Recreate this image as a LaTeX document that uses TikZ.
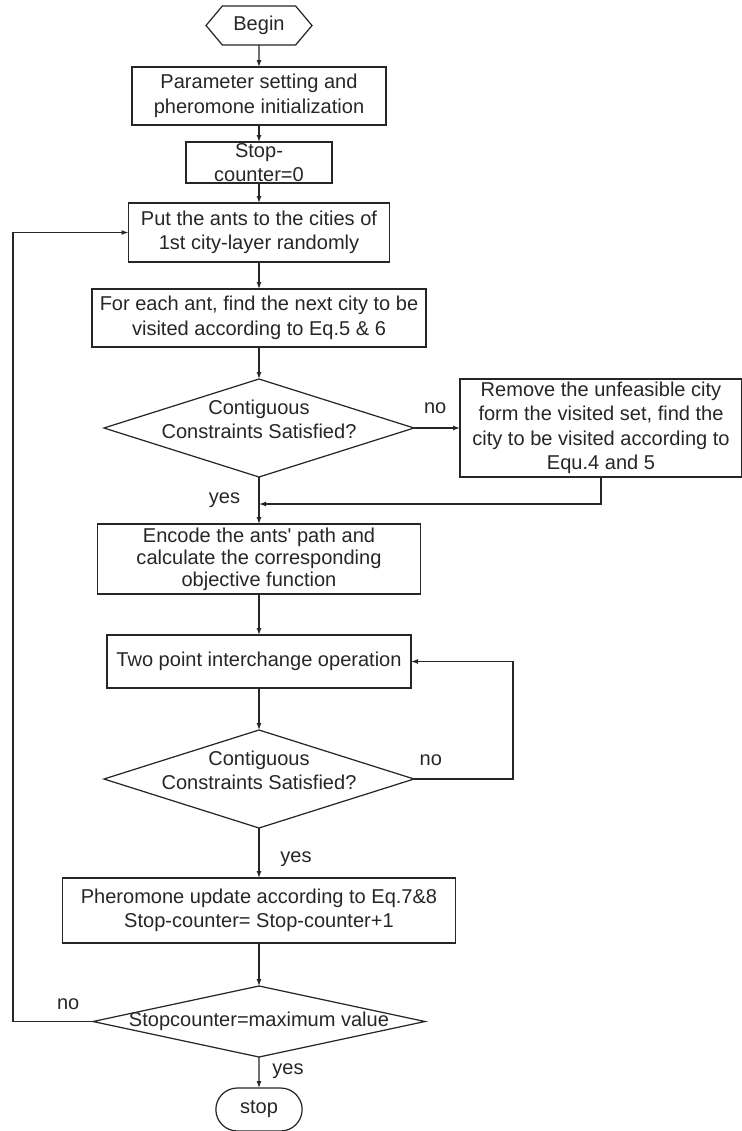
\documentclass[tikz,border=0pt]{standalone}
\usepackage{fontspec}
\setmainfont{Liberation Sans}
\usetikzlibrary{arrows.meta,positioning,shapes.geometric,shapes.symbols,shapes.misc,calc}

\begin{document}
\begin{tikzpicture}[
            font=\fontsize{11.4}{13.9}\selectfont,
            color=black!85,
            line width=0.7pt,
            >={Latex[length=1.4mm,width=1mm]},
            block/.style = {rectangle, draw, align=center, outer sep=0pt, inner xsep=2pt, inner ysep=1pt},
            decision/.style = {diamond, draw, align=center, outer sep=0pt, aspect=3.16, inner xsep=-0.1cm, inner ysep=-0.18cm, minimum width=6.2cm, minimum height=1.96cm},
            startnode/.style = {signal, signal to=east and west, signal pointer angle=100, draw, outer sep=0pt, minimum width=2.12cm, minimum height=0.78cm, inner sep=1pt},
            endnode/.style = {rounded rectangle, draw, outer sep=0pt, minimum width=1.96cm, minimum height=0.86cm}
        ]
        \useasboundingbox (0,0) rectangle (14.84,-22.62);

        % Inicio y preparacion
        \node [startnode] (begin) at (5.18,-0.51) {Begin};
        \node [block, below=0.44cm of begin, minimum width=5.08cm, minimum height=1.16cm] (param) {Parameter setting and\\ pheromone initialization};
        \node [block, below=0.34cm of param, minimum width=2.92cm, minimum height=0.82cm, inner ysep=0pt] (counter) {Stop-\\counter=0};
        \node [block, below=0.40cm of counter, minimum width=5.22cm, minimum height=1.18cm] (ants) {Put the ants to the cities of\\ 1st city-layer randomly};
        \node [block, below=0.54cm of ants, minimum width=6.68cm, minimum height=1.16cm] (next) {For each ant, find the next city to be\\ visited according to Eq.5 \& 6};

        % Primera comprobacion
        \node [decision, below=0.64cm of next] (check) {Contiguous\\ Constraints Satisfied?\rule[-0.36cm]{0pt}{0pt}};
        \node [block, right=0.92cm of check, minimum width=5.64cm, minimum height=1.96cm] (remove) {Remove the unfeasible city\\ form the visited set, find the\\ city to be visited according to\\ Equ.4 and 5};

        % Codificacion e intercambio
        \node [block, below=0.94cm of check, minimum width=6.46cm, minimum height=1.4cm, font=\fontsize{11.4}{12.5}\selectfont] (encode) {Encode the ants\textquotesingle{} path and\\ calculate the corresponding\\ objective function};
        \node [block, below=0.82cm of encode, minimum width=6.08cm, minimum height=1.06cm] (swap) {Two point interchange operation};
        \node [decision, below=0.84cm of swap] (recheck) {Contiguous\\ Constraints Satisfied?\rule[-0.36cm]{0pt}{0pt}};

        % Actualizacion y fin
        \node [block, below=1.0cm of recheck, minimum width=7.86cm, minimum height=1.3cm] (update) {Pheromone update according to Eq.7\&8\\ Stop-counter= Stop-counter+1};
        \node [decision, below=0.86cm of update, aspect=4.68, inner xsep=-0.25cm, inner ysep=0pt, minimum width=6.64cm, minimum height=1.42cm] (maxcheck) {Stopcounter=maximum value};
        \node [endnode, below=0.62cm of maxcheck] (stop) {stop};

        % Flechas de flujo
        \draw [->] (begin) -- (param);
        \draw [->] (param) -- (counter);
        \draw [->] (counter) -- (ants);
        \draw [->] (ants) -- (next);
        \draw [->] (next) -- (check);
        \draw [->] (check) -- node[above=0.16cm, pos=0.46] {no} (remove);
        \coordinate (join) at ($(encode.north)+(0,0.4)$);
        \draw [->] (check) -- node[left=0.25cm] {yes} (encode);
        \draw [->] (remove.south) |- (join);
        \draw [->] (encode) -- (swap);
        \draw [->] (swap) -- (recheck);
        \draw [->] (recheck.east) -- node[above=0.14cm, pos=0.17] {no} ++(1.98,0) |- (swap.east);
        \draw [->] (recheck) -- node[right=0.3cm, pos=0.62] {yes} (update);
        \draw [->] (update) -- (maxcheck);
        \draw [->] (maxcheck.west) -- node[above=0.1cm, pos=0.31] {no} ++(-1.6,0) |- (ants.west);
        \draw [->] (maxcheck) -- node[right=0.14cm, pos=0.45] {yes} (stop);

    \end{tikzpicture}
\end{document}
